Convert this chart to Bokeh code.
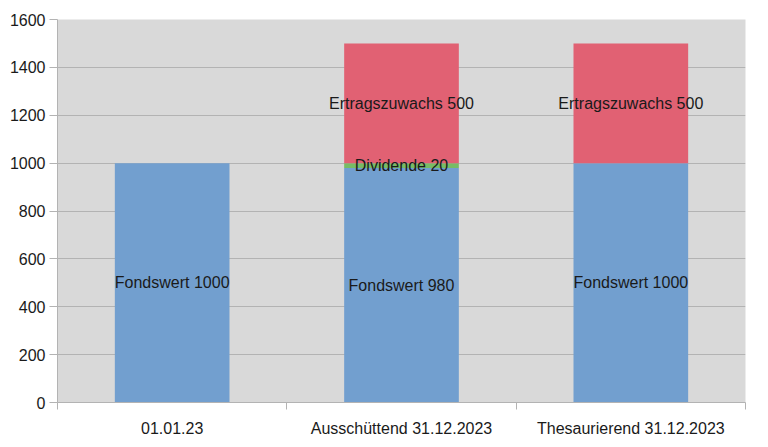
from bokeh.plotting import figure
from bokeh.models import Range1d, FixedTicker, ColumnDataSource
from bokeh.core.properties import value
from bokeh.embed import file_html
from bokeh.resources import INLINE

categories = ["01.01.23", "Ausschüttend 31.12.2023", "Thesaurierend 31.12.2023"]
fondswert = [1000, 980, 1000]
dividende = [0, 20, 0]
ertrag = [0, 500, 500]
y_ticks = [0, 200, 400, 600, 800, 1000, 1200, 1400, 1600]

FONT = "Liberation Sans"
xs = [i + 0.5 for i in range(len(categories))]

p = figure(width=760, height=439, output_backend="svg", toolbar_location=None,
           x_range=Range1d(0, len(categories)), y_range=Range1d(0, 1600),
           min_border_left=57, min_border_right=15, min_border_top=19, min_border_bottom=34)
p.background_fill_color = "#d9d9d9"
p.border_fill_color = "white"
p.outline_line_color = None

bot2 = [f + d for f, d in zip(fondswert, dividende)]
top3 = [b + e for b, e in zip(bot2, ertrag)]
src = ColumnDataSource(dict(x=xs, f=fondswert, d_bot=fondswert, d_top=bot2, e_bot=bot2, e_top=top3))
p.vbar(x="x", width=0.5, bottom=0, top="f", source=src, fill_color="#729fcf", line_color=None)
p.vbar(x="x", width=0.5, bottom="d_bot", top="d_top", source=src, fill_color="#77bc65", line_color=None)
p.vbar(x="x", width=0.5, bottom="e_bot", top="e_top", source=src, fill_color="#e16173", line_color=None)

# labels
lx, ly, lt = [], [], []
for i in range(len(categories)):
    lx.append(xs[i]); ly.append(fondswert[i] / 2); lt.append(f"Fondswert {fondswert[i]}")
    if dividende[i]:
        lx.append(xs[i]); ly.append(fondswert[i] + dividende[i] / 2); lt.append(f"Dividende {dividende[i]}")
    if ertrag[i]:
        lx.append(xs[i]); ly.append(bot2[i] + ertrag[i] / 2); lt.append(f"Ertragszuwachs {ertrag[i]}")
p.text(x=lx, y=ly, text=lt, text_align="center", text_baseline="middle",
       text_font=value(FONT), text_font_size="16px", text_color="#1a1a1a")

p.xgrid.visible = False
p.ygrid.ticker = FixedTicker(ticks=y_ticks)
p.ygrid.grid_line_color = "#b3b3b3"

xa = p.xaxis[0]
xa.ticker = FixedTicker(ticks=xs, minor_ticks=list(range(len(categories) + 1)))
xa.major_label_overrides = {x: c for x, c in zip(xs, categories)}
xa.major_tick_out = 0
xa.major_tick_in = 0
xa.minor_tick_out = 7
xa.minor_tick_in = 0
xa.minor_tick_line_color = "#b3b3b3"
xa.axis_line_color = "#b3b3b3"
xa.major_label_text_font = FONT
xa.major_label_text_font_size = "16px"
xa.major_label_text_color = "#1a1a1a"
xa.major_label_standoff = 10

ya = p.yaxis[0]
ya.ticker = FixedTicker(ticks=y_ticks)
ya.major_tick_out = 8
ya.major_tick_in = 0
ya.minor_tick_out = 0
ya.minor_tick_in = 0
ya.major_tick_line_color = "#b3b3b3"
ya.axis_line_color = "#b3b3b3"
ya.major_label_text_font = FONT
ya.major_label_text_font_size = "16px"
ya.major_label_text_color = "#1a1a1a"
ya.major_label_standoff = 4

open("out.html", "w").write(file_html(p, INLINE))
